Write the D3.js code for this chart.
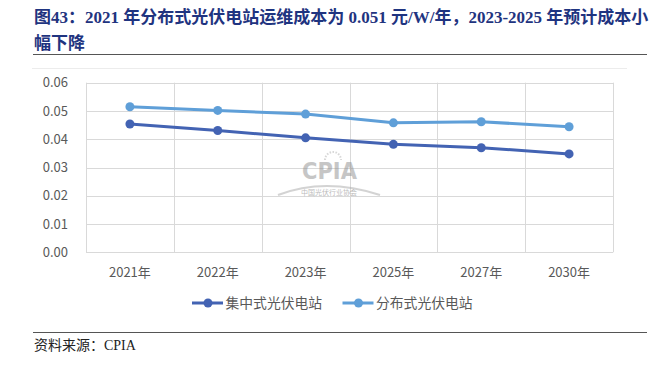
<!DOCTYPE html>
<html>
<head>
<meta charset="utf-8">
<script src="https://cdn.jsdelivr.net/npm/d3@7"></script>
<style>
  body { margin: 0; background: #fff; }
  svg { display: block; }
</style>
</head>
<body>
<svg width="660" height="367"></svg>
<script>
// categories and series
var years = ["2021年", "2022年", "2023年", "2025年", "2027年", "2030年"];
var centralised = [0.0454, 0.0431, 0.0405, 0.0382, 0.0370, 0.0348];
var distributed = [0.0515, 0.0502, 0.0489, 0.0458, 0.0462, 0.0444];
var yTicks = [0, 0.01, 0.02, 0.03, 0.04, 0.05, 0.06];

var series = [
  {name: "集中式光伏电站", values: centralised, color: "#4363b3"},
  {name: "分布式光伏电站", values: distributed, color: "#5f9fd8"}
];

var svg = d3.select("svg");
var titleColor = "#1f3480";
var serif = "'Liberation Serif', 'Noto Sans CJK SC', serif";
var sans = "'Noto Sans CJK SC', 'Open Sans', sans-serif";

// title
var title = svg.append("text")
  .attr("font-family", serif)
  .attr("font-weight", "bold")
  .attr("font-size", 17)
  .attr("fill", titleColor);
title.append("tspan").attr("x", 34).attr("y", 22.5)
  .text("图43：2021 年分布式光伏电站运维成本为 0.051 元/W/年，2023-2025 年预计成本小");
title.append("tspan").attr("x", 34).attr("y", 48.5).text("幅下降");

svg.append("line")
  .attr("x1", 33).attr("x2", 647).attr("y1", 54.5).attr("y2", 54.5)
  .attr("stroke", "#555").attr("stroke-width", 1);

// faint frame line of the chart box
svg.append("line")
  .attr("x1", 32).attr("x2", 627).attr("y1", 68.5).attr("y2", 68.5)
  .attr("stroke", "#ececec");

var x = d3.scaleBand().domain(years).range([86, 613]).padding(0);
var y = d3.scaleLinear().domain([0, 0.06]).range([252.3, 82.7]);

var g = svg.append("g");

// horizontal grid
g.selectAll(".hgrid")
  .data(yTicks)
  .enter().append("line")
    .attr("x1", x.range()[0]).attr("x2", x.range()[1])
    .attr("y1", function(d) { return Math.round(y(d)) + 0.5; })
    .attr("y2", function(d) { return Math.round(y(d)) + 0.5; })
    .attr("stroke", "#d9d9d9").attr("stroke-width", 1);

// vertical grid at band edges
var edges = years.map(function(d) { return x(d); }).concat([x.range()[1]]);
g.selectAll(".vgrid")
  .data(edges)
  .enter().append("line")
    .attr("x1", function(d) { return Math.round(d) + 0.5; })
    .attr("x2", function(d) { return Math.round(d) + 0.5; })
    .attr("y1", y(0.06)).attr("y2", y(0))
    .attr("stroke", "#d9d9d9").attr("stroke-width", 1);

// y labels
g.selectAll(".ylab")
  .data(yTicks)
  .enter().append("text")
    .attr("x", 68)
    .attr("y", function(d) { return y(d); })
    .attr("dy", "0.35em")
    .attr("text-anchor", "end")
    .attr("font-family", sans)
    .attr("font-size", 13)
    .attr("fill", "#595959")
    .text(function(d) { return d3.format(".2f")(d); });

// x labels
g.selectAll(".xlab")
  .data(years)
  .enter().append("text")
    .attr("x", function(d) { return x(d) + x.bandwidth() / 2; })
    .attr("y", 272)
    .attr("dy", "0.35em")
    .attr("text-anchor", "middle")
    .attr("font-family", sans)
    .attr("font-size", 13)
    .attr("fill", "#595959")
    .text(function(d) { return d; });

// watermark
var wm = svg.append("g").attr("opacity", 0.5);
wm.append("text")
  .attr("x", 302).attr("y", 178.5)
  .attr("textLength", 55)
  .attr("lengthAdjust", "spacingAndGlyphs")
  .attr("font-family", "'DejaVu Sans', sans-serif")
  .attr("font-weight", "bold")
  .attr("font-size", 23)
  .attr("fill", "#8f8f8f")
  .text("CPIA");
wm.append("path")
  .attr("d", "M278,195 Q325,177 380,195")
  .attr("fill", "none")
  .attr("stroke", "#a8a8a8").attr("stroke-width", 2);
wm.append("path")
  .attr("d", "M325,160 A8,8 0 0 1 341,160")
  .attr("fill", "none")
  .attr("stroke", "#b0b0b0").attr("stroke-width", 2)
  .attr("stroke-dasharray", "1.5,1.5");
wm.append("text")
  .attr("x", 329).attr("y", 195)
  .attr("text-anchor", "middle")
  .attr("font-family", sans)
  .attr("font-size", 7)
  .attr("fill", "#777")
  .text("中国光伏行业协会");

// lines
var line = d3.line()
  .x(function(d, i) { return x(years[i]) + x.bandwidth() / 2; })
  .y(function(d) { return y(d); });

var sg = svg.selectAll(".series")
  .data(series)
  .enter().append("g");

sg.append("path")
  .attr("d", function(d) { return line(d.values); })
  .attr("fill", "none")
  .attr("stroke", function(d) { return d.color; })
  .attr("stroke-width", 3)
  .attr("stroke-linejoin", "round");

sg.selectAll("circle")
  .data(function(d) { return d.values.map(function(v, i) { return {v: v, i: i, color: d.color}; }); })
  .enter().append("circle")
    .attr("cx", function(d) { return x(years[d.i]) + x.bandwidth() / 2; })
    .attr("cy", function(d) { return y(d.v); })
    .attr("r", 4.5)
    .attr("fill", function(d) { return d.color; });

// legend
var legend = svg.selectAll(".legend")
  .data(series)
  .enter().append("g")
    .attr("transform", function(d, i) { return "translate(" + (192 + i * 150.5) + ",303)"; });

legend.append("line")
  .attr("x1", 0).attr("x2", 31)
  .attr("stroke", function(d) { return d.color; })
  .attr("stroke-width", 3);
legend.append("circle")
  .attr("cx", 16).attr("r", 4.5)
  .attr("fill", function(d) { return d.color; });
legend.append("text")
  .attr("x", 33.5)
  .attr("dy", "0.35em")
  .attr("font-family", sans)
  .attr("font-size", 13.8)
  .attr("fill", "#595959")
  .text(function(d) { return d.name; });

// bottom rule and source
svg.append("line")
  .attr("x1", 33).attr("x2", 647).attr("y1", 332.5).attr("y2", 332.5)
  .attr("stroke", "#555").attr("stroke-width", 1);

svg.append("text")
  .attr("x", 34).attr("y", 350)
  .attr("font-family", serif)
  .attr("font-size", 14)
  .attr("fill", "#222")
  .text("资料来源：CPIA");
</script>
</body>
</html>
